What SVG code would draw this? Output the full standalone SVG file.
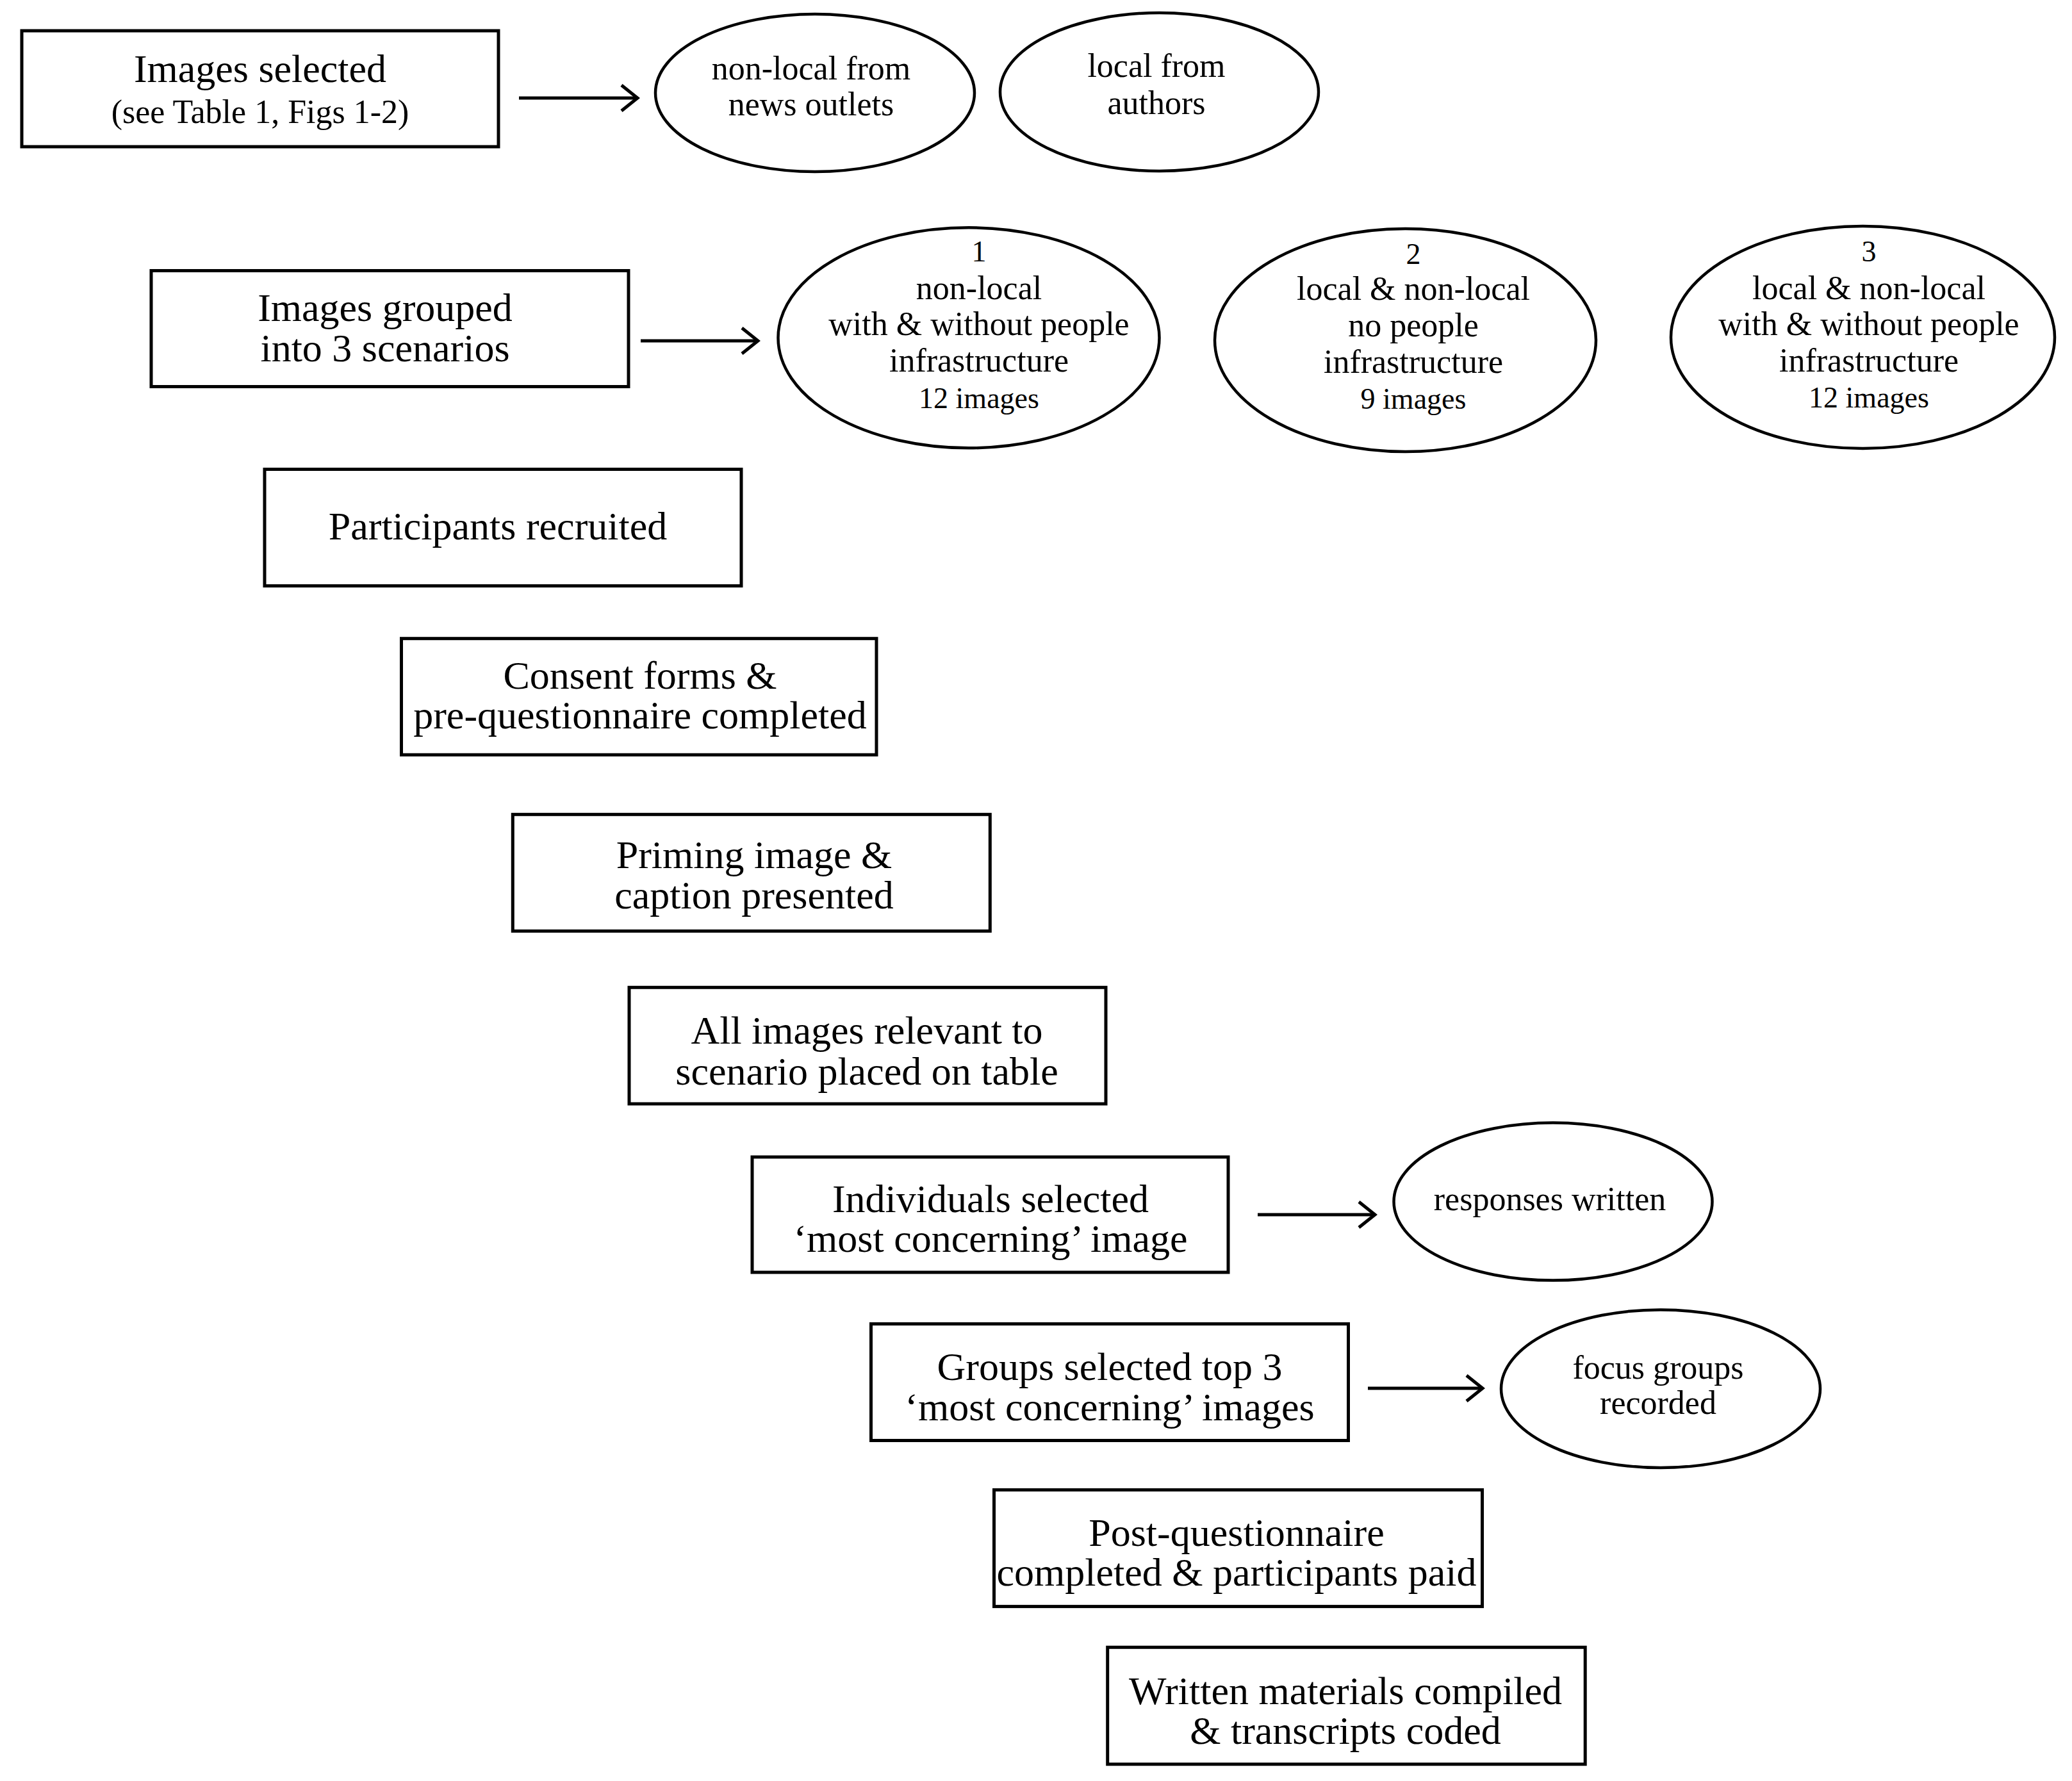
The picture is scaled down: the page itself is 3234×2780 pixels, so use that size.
<svg xmlns="http://www.w3.org/2000/svg" width="3234" height="2780" viewBox="0 0 3234 2780">
<style>
.box{fill:#fff;stroke:#000;stroke-width:5}
.ell{fill:#fff;stroke:#000;stroke-width:4.5}
.t{font-family:"Liberation Serif","Times New Roman",serif;font-size:62px;fill:#000;text-anchor:middle}
.s{font-family:"Liberation Serif","Times New Roman",serif;font-size:52px;fill:#000;text-anchor:middle}
.n{font-family:"Liberation Serif","Times New Roman",serif;font-size:46px;fill:#000;text-anchor:middle}
.c{fill:none;stroke:#000;stroke-width:5}
</style>
<defs>
<marker id="arr" markerUnits="userSpaceOnUse" viewBox="-32 -26 40 52" markerWidth="40" markerHeight="52" refX="0" refY="0" orient="auto">
<path d="M-25,-20 L0,0 L-25,20" fill="none" stroke="#000" stroke-width="5"/>
</marker>
</defs>
<rect width="3234" height="2780" fill="#fff"/>
<g id="connectors">
<line class="c" x1="810" y1="153" x2="995" y2="153" marker-end="url(#arr)"/>
<line class="c" x1="1000" y1="532" x2="1183" y2="532" marker-end="url(#arr)"/>
<line class="c" x1="1963" y1="1896" x2="2146" y2="1896" marker-end="url(#arr)"/>
<line class="c" x1="2135" y1="2167" x2="2314" y2="2167" marker-end="url(#arr)"/>
</g>
<g id="n-images-selected">
<rect class="box" x="34" y="48" width="744" height="181"/>
<text class="t" x="406" y="128">Images selected</text>
<text class="s" x="406" y="192">(see Table 1, Figs 1-2)</text>
</g>
<g id="n-nonlocal-news">
<ellipse class="ell" cx="1272" cy="145" rx="249" ry="123"/>
<text class="s" x="1266" y="124">non-local from</text>
<text class="s" x="1266" y="180">news outlets</text>
</g>
<g id="n-local-authors">
<ellipse class="ell" cx="1809.5" cy="143.5" rx="248.5" ry="123.5"/>
<text class="s" x="1805" y="120">local from</text>
<text class="s" x="1805" y="178">authors</text>
</g>
<g id="n-images-grouped">
<rect class="box" x="236" y="422.5" width="745" height="181"/>
<text class="t" x="601" y="501">Images grouped</text>
<text class="t" x="601" y="564">into 3 scenarios</text>
</g>
<g id="n-scenario-1">
<ellipse class="ell" cx="1512" cy="527.3" rx="297.5" ry="172"/>
<text class="n" x="1528" y="408">1</text>
<text class="s" x="1528" y="467">non-local</text>
<text class="s" x="1528" y="523">with &amp; without people</text>
<text class="s" x="1528" y="580">infrastructure</text>
<text class="n" x="1528" y="637">12 images</text>
</g>
<g id="n-scenario-2">
<ellipse class="ell" cx="2193.5" cy="531" rx="297.5" ry="174"/>
<text class="n" x="2206" y="412">2</text>
<text class="s" x="2206" y="468">local &amp; non-local</text>
<text class="s" x="2206" y="525">no people</text>
<text class="s" x="2206" y="582">infrastructure</text>
<text class="n" x="2206" y="638">9 images</text>
</g>
<g id="n-scenario-3">
<ellipse class="ell" cx="2907.5" cy="526.5" rx="299.5" ry="173.5"/>
<text class="n" x="2917" y="408">3</text>
<text class="s" x="2917" y="467">local &amp; non-local</text>
<text class="s" x="2917" y="523">with &amp; without people</text>
<text class="s" x="2917" y="580">infrastructure</text>
<text class="n" x="2917" y="636">12 images</text>
</g>
<g id="n-participants">
<rect class="box" x="413" y="732.5" width="744" height="182"/>
<text class="t" x="777" y="842">Participants recruited</text>
</g>
<g id="n-consent">
<rect class="box" x="626.5" y="996.7" width="741.5" height="181.5"/>
<text class="t" x="999" y="1075">Consent forms &amp;</text>
<text class="t" x="999" y="1137">pre-questionnaire completed</text>
</g>
<g id="n-priming">
<rect class="box" x="800.3" y="1271.3" width="745" height="182"/>
<text class="t" x="1177" y="1355">Priming image &amp;</text>
<text class="t" x="1177" y="1418">caption presented</text>
</g>
<g id="n-all-images">
<rect class="box" x="982" y="1541.3" width="744" height="181.7"/>
<text class="t" x="1353" y="1629">All images relevant to</text>
<text class="t" x="1353" y="1692.5">scenario placed on table</text>
</g>
<g id="n-individuals">
<rect class="box" x="1174" y="1806" width="743" height="180"/>
<text class="t" x="1546" y="1892">Individuals selected</text>
<text class="t" x="1546" y="1954">‘most concerning’ image</text>
</g>
<g id="n-responses">
<ellipse class="ell" cx="2424" cy="1875.6" rx="248.5" ry="123"/>
<text class="s" x="2419" y="1889">responses written</text>
</g>
<g id="n-groups">
<rect class="box" x="1359.5" y="2066.5" width="745" height="182"/>
<text class="t" x="1732" y="2153.5">Groups selected top 3</text>
<text class="t" x="1732" y="2216.5">‘most concerning’ images</text>
</g>
<g id="n-focus">
<ellipse class="ell" cx="2592" cy="2167.7" rx="249" ry="123.3"/>
<text class="s" x="2588" y="2151.5">focus groups</text>
<text class="s" x="2588" y="2207">recorded</text>
</g>
<g id="n-post">
<rect class="box" x="1551.5" y="2325.6" width="762" height="182"/>
<text class="t" x="1930" y="2413">Post-questionnaire</text>
<text class="t" x="1930" y="2475">completed &amp; participants paid</text>
</g>
<g id="n-written">
<rect class="box" x="1728.7" y="2571.3" width="745.5" height="182.5"/>
<text class="t" x="2100" y="2660">Written materials compiled</text>
<text class="t" x="2100" y="2721.5">&amp; transcripts coded</text>
</g>
</svg>
